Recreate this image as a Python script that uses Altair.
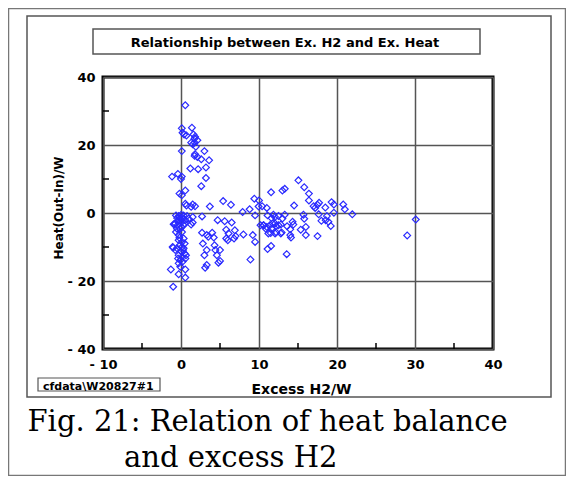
import altair as alt
import pandas as pd

# ---- data ----
excess_h2 = [
    0.55, 0.1, 0.4, 0.2, 0.7, 1.4, 1.6, 1.8, 1.75, 2.1, 1.3, 1.5, 1.75, 1.9, 0.1, 3.0,
    1.8, 2.1, 1.75, 2.6, 3.6, 3.2, 1.2, 2.2, -1.15, -0.4, 0.1, 0.0, 3.2, 2.6, 0.55, -0.2, 0.1,
    0.55, 0.7, 1.5, 1.8, 1.3, 3.7, 5.4, 6.4,
    2.7, 1.5, 1.3, 1.5,
    -0.64, -0.3, 0.04, 0.34, 0.77, 0.98, -0.09, -0.38, 0.13, 0.56, -0.73, -0.94, -0.51, -0.3,
    0.13, -0.09, 0.34, -0.3, 0.13, 0.47, -0.17, 0.13, 0.34, -0.51, -1.07, 0.04, 0.47, -0.3,
    0.13, 0.64, -0.09, -0.3,
    -0.21, 0.21, 0.47, -0.43, 0.04, -0.64, -0.21, 0.34, -0.73, 0.26, 0.56, 0.21, -0.38, -0.09,
    -0.85, -0.5, -1.0, -0.3, -1.3, 0.55, 0.55, -1.0,
    4.7, 5.6, 6.5, 2.7, 3.3, 4.0, 3.5, 4.2, 2.8, 3.3, 3.0, 4.3, 4.4, 5.0, 4.6, 5.0, 4.8,
    3.3, 3.1, 5.8, 6.1, 6.9, 7.0, 6.8, 5.8, 6.0, 8.0, 9.2, 9.5, 8.9,
    7.9, 8.8, 9.5, 9.4, 10.4, 10.0, 10.2, 10.6, 10.9, 9.95,
    15.05, 15.8, 16.4, 16.4, 14.5, 17.0, 17.2, 17.5, 17.7, 18.5, 19.3, 19.6, 20.8, 21.0,
    21.96, 19.6, 17.65, 18.7, 18.0, 18.55, 18.9, 19.2, 15.7, 15.8, 16.0, 15.35, 16.0, 17.5,
    14.4, 14.0, 14.0, 14.1, 13.55, 13.3, 13.0, 11.55, 11.0,
    11.1, 11.85, 12.05, 11.6, 12.5, 13.3, 10.57, 11.0, 11.4, 11.76, 12.06, 12.2, 12.5, 11.6,
    11.2, 12.06, 12.8, 13.6, 14.3, 11.55, 11.1, 11.5, 12.2, 12.9, 12.8, 13.0,
    30.1, 29.0,
]
heat = [
    31.7, 24.9, 23.1, 23.6, 22.8, 25.1, 23.1, 22.4, 21.9, 21.4, 20.7, 20.2, 20.7, 19.5, 18.2, 18.2,
    17.3, 16.5, 16.8, 15.8, 15.5, 13.4, 13.1, 12.9, 10.7, 11.5, 10.7, 10.0, 10.3, 7.9, 6.6, 5.7, 5.2,
    2.7, 2.2, 2.5, 2.0, 1.8, 1.9, 3.5, 2.4,
    -1.0, -1.2, -3.4, -2.8,
    -0.7, -0.9, -0.5, -0.7, -0.9, -1.7, -1.7, -2.4, -2.6, -2.1, -3.1, -3.3, -4.6, -6.5,
    -5.6, -4.6, -3.6, -8.0, -8.5, -9.0, -9.5, -10.0, -10.4, -10.4, -10.0, -11.4, -11.9, -12.4,
    -12.9, -12.4, -13.9, -14.8,
    -1.2, -1.5, -3.1, -3.6, -4.1, -5.6, -7.3, -7.5, -10.9, -10.9, -13.4, -14.3, -13.4, -15.8,
    -3.3, -1.5, -10.2, -18.0, -16.6, -16.6, -19.0, -21.7,
    -2.1, -2.4, -2.8, -5.8, -6.5, -5.8, -7.0, -7.2, -9.0, -10.9, -12.4, -9.5, -10.9, -10.9, -12.4, -14.1, -14.6,
    -15.3, -16.1, -4.9, -6.0, -5.1, -6.8, -7.5, -7.5, -8.0, -6.3, -6.5, -8.5, -13.7,
    0.3, 1.1, -0.7, 4.2, 2.0, 3.7, -3.6, -3.6, -4.7, 1.9,
    9.6, 7.6, 5.7, 3.7, 2.2, 2.0, 1.5, 2.4, 3.0, 1.6, 3.2, 2.5, 2.5, 1.1,
    -0.4, 0.1, -0.4, -0.9, -2.3, -2.1, -2.6, -3.8, -0.5, -1.7, -4.1, -4.9, -6.5, -6.8,
    -3.4, -4.8, -6.5, -7.2, -12.1, 7.1, 6.6, 6.1, 1.5,
    -0.7, -0.5, -1.2, -1.5, -0.9, -0.5, -3.6, -4.1, -3.6, -3.1, -3.1, -3.8, -3.6, -4.6,
    -6.0, -6.0, -6.0, -3.9, -2.6, -9.7, -10.6, -5.9, -5.7, -5.7, -3.4, -1.6,
    -1.9, -6.6,
]
x_ticks = [-10, 0, 10, 20, 30, 40]
y_ticks = [-40, -20, 0, 20, 40]
x_minor = [-5, 5, 15, 25, 35]
y_minor = [-30, -10, 10, 30]

chart_title = "Relationship between Ex. H2 and Ex. Heat"
x_title = "Excess  H2/W"
y_title = "Heat(Out-In)/W"
tag = "cfdata\\W20827#1"
caption1 = "Fig. 21: Relation of heat balance"
caption2 = "and excess H2"

df = pd.DataFrame({"h2": excess_h2, "heat": heat})

W, H = 390, 272
xscale = alt.Scale(domain=[-10, 40], nice=False, zero=False)
yscale = alt.Scale(domain=[-40, 40], nice=False, zero=False)
lab = "datum.value < 0 ? '- ' + format(-datum.value, 'd') : format(datum.value, 'd')"

common_axis = dict(
    grid=True, gridColor="#555555", gridWidth=1.5, domain=False, ticks=False,
    labelFont="DejaVu Sans", labelFontWeight="bold", labelFontSize=13,
    labelColor="black", labelFlush=False, labelOverlap=False, title=None,
    labelExpr=lab,
)
x_axis = alt.Axis(values=x_ticks, labelPadding=9, **common_axis)
y_axis = alt.Axis(values=y_ticks, labelPadding=8, **common_axis)

points = alt.Chart(df).mark_point(
    shape="diamond", filled=False, size=46, strokeWidth=1.2, color="#2a2aff", opacity=1
).encode(
    x=alt.X("h2:Q", scale=xscale, axis=x_axis),
    y=alt.Y("heat:Q", scale=yscale, axis=y_axis),
)

xm = alt.Chart(pd.DataFrame({"h2": x_minor})).mark_rule(color="black", strokeWidth=1.5).encode(
    x=alt.X("h2:Q", scale=xscale, axis=x_axis), y=alt.value(H), y2=alt.value(H - 6)
)
ym = alt.Chart(pd.DataFrame({"heat": y_minor})).mark_rule(color="black", strokeWidth=1.5).encode(
    y=alt.Y("heat:Q", scale=yscale, axis=y_axis), x=alt.value(0), x2=alt.value(6)
)

one = alt.Data(values=[{}])


def box(x1, y1, x2, y2, color, width):
    return alt.Chart(one).mark_rect(fillOpacity=0, stroke=color, strokeWidth=width).encode(
        x=alt.value(x1), x2=alt.value(x2), y=alt.value(y1), y2=alt.value(y2)
    )


def label(txt, x, y, size, font="DejaVu Sans", weight="bold", align="center",
          baseline="middle", angle=0):
    return alt.Chart(one).mark_text(
        text=txt, font=font, fontWeight=weight, fontSize=size, align=align,
        baseline=baseline, angle=angle, color="black"
    ).encode(x=alt.value(x), y=alt.value(y))


layers = [
    points, xm, ym,
    box(-94.5, -68.5, 462.5, 398.5, "#777777", 1.5),
    box(-76, -61, 448, 320, "#555555", 1.5),
    box(-10, -48, 377, -23, "#555555", 1.5),
    label(chart_title, 182, -34, 13),
    label(y_title, -44.5, 131, 12, angle=270),
    label(x_title, 198.5, 312.5, 14),
    box(-65, 301, 57, 314, "#555555", 1.2),
    label(tag, -60, 313, 11, align="left", baseline="alphabetic"),
    label(caption1, -75.5, 354, 29, font="DejaVu Serif", weight="normal",
          align="left", baseline="alphabetic"),
    label(caption2, 21, 390, 29, font="DejaVu Serif", weight="normal",
          align="left", baseline="alphabetic"),
]

chart = alt.layer(*layers).properties(
    width=W, height=H,
    padding={"left": 95, "top": 69, "right": 73, "bottom": 127},
    autosize=alt.AutoSizeParams(type="none"),
    background="white",
).configure_view(stroke="black", strokeWidth=3)

chart.save("out.html", embed_options={"renderer": "svg", "actions": False})
